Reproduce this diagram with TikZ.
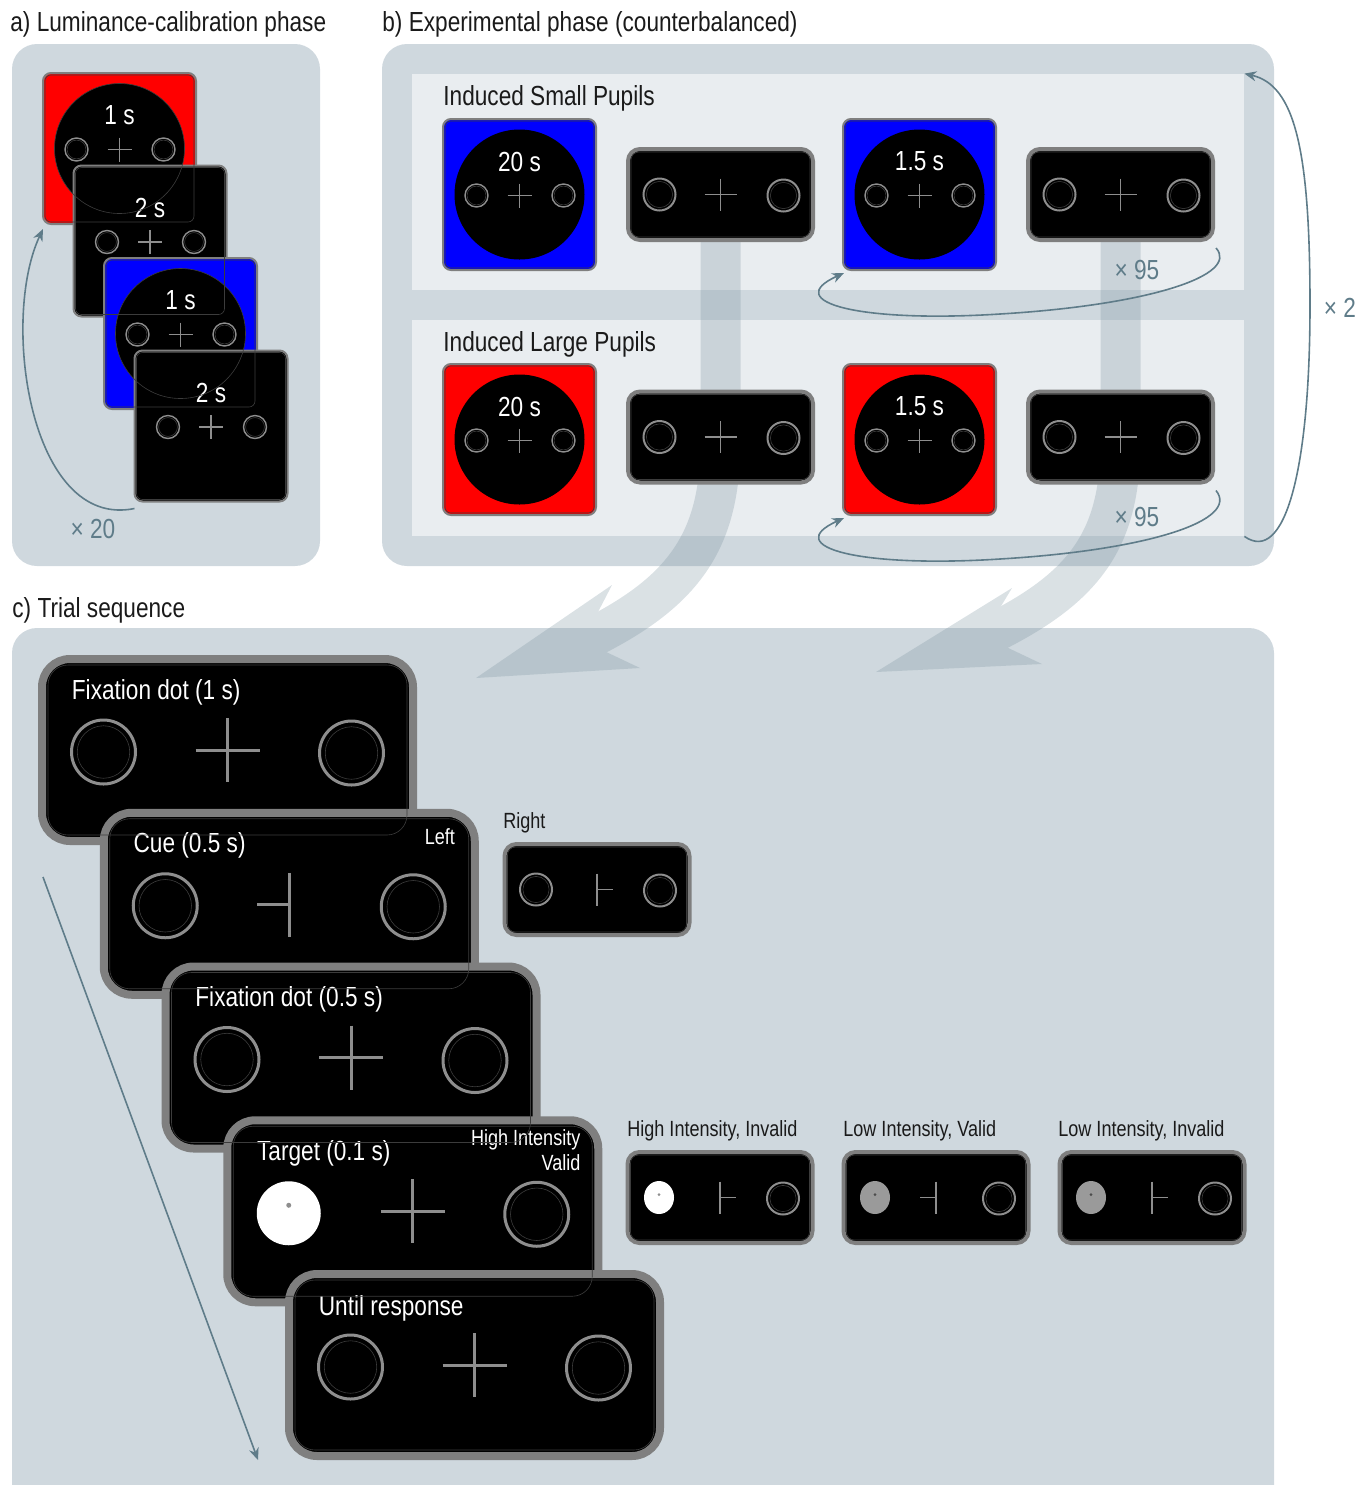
\documentclass[tikz,border=0pt]{standalone}
\usepackage{fontspec}
\setmainfont{Liberation Sans}[FakeStretch=0.82]
\usepackage{tikz}
\usetikzlibrary{arrows.meta,calc}
\definecolor{PanelGrey}{HTML}{CFD8DE}
\definecolor{BoxLight}{HTML}{E9EDF0}
\definecolor{ScreenEdge}{HTML}{7F7F7F}
\definecolor{StimGrey}{HTML}{8E8E8E}
\definecolor{GhostGrey}{HTML}{3C3C3C}
\definecolor{LoopSlate}{HTML}{5F7C89}
\definecolor{BandSlate}{HTML}{78909C}
\definecolor{StimBlue}{HTML}{0000FF}
\definecolor{StimRed}{HTML}{FF0000}
\definecolor{LowDisk}{HTML}{9A9A9A}
\definecolor{TitleInk}{HTML}{1A1A1A}

\newcommand{\titlesize}{\fontsize{13.8}{16}\selectfont}
\newcommand{\notesize}{\fontsize{11}{12.6}\selectfont}

% placeholder ring with a faint inner line: centre, radius, width
\newcommand{\stimring}[3]{%
  \draw[StimGrey,line width=#3] (#1) circle[radius=#2];
  \draw[ghostline] (#1) circle[radius=0.82*#2];}

% faint inner outline of a screen: node, inset, corner
\newcommand{\innerframe}[3]{%
  \draw[ghostline,rounded corners=#3] ($(#1.north west)+(#2,#2)$) rectangle ($(#1.south east)+(-#2,-#2)$);}

% square screen: time label above cross and rings
\newcommand{\squareface}[2]{%
  \begin{scope}[shift={(#1.center)}]
    \node[timelabel] (#1-t) at (0,-35) {#2};
    \stimring{-43,1}{11.5}{0.7pt}
    \stimring{44,1}{11.5}{0.7pt}
    \draw[stimline,line width=0.6pt] (-12,1) -- (12,1) (0,-11) -- (0,13);
  \end{scope}}
\newcommand{\colourface}[2]{%
  \fill[black] (#1.center) circle[radius=65];
  \squareface{#1}{#2}}

% small screen: two rings and a cross
\newcommand{\smallface}[1]{%
  \begin{scope}[shift={(#1.center)}]
    \stimring{-61,0}{16}{1pt}
    \stimring{63,1}{16}{1pt}
    \draw[stimline] (-16,0) -- (16,0) (0,-16) -- (0,16);
  \end{scope}}

% big screen rings
\newcommand{\bigrings}[1]{%
  \begin{scope}[shift={(#1.center)}]
    \stimring{-124,2}{32}{1.5pt}
    \stimring{124,3}{32}{1.5pt}
  \end{scope}}

\begin{document}
\begin{tikzpicture}[x=0.5pt,y=-0.5pt,>=Latex,
  panel/.style={fill=PanelGrey,rounded corners=12.5pt},
  lightbox/.style={fill=BoxLight,inner sep=0pt,minimum width=416pt,minimum height=108pt},
  colsq/.style={draw=ScreenEdge,line width=1pt,rounded corners=4pt,inner sep=0pt,minimum width=76.5pt,minimum height=75.5pt},
  smallscr/.style={draw=ScreenEdge,fill=black,line width=2pt,rounded corners=6pt,inner sep=0pt,minimum width=92.5pt,minimum height=45.5pt},
  bigscr/.style={draw=ScreenEdge,fill=black,line width=4pt,rounded corners=14pt,inner sep=0pt,minimum width=185.5pt,minimum height=91pt},
  stimline/.style={StimGrey,line width=0.75pt},
  bigline/.style={StimGrey,line width=1.5pt},
  ghostline/.style={GhostGrey,line width=0.3pt},
  heading/.style={text=TitleInk,font=\titlesize,inner sep=0pt,anchor=west,yshift=-1pt},
  note/.style={text=TitleInk,font=\notesize,inner sep=0pt,anchor=west,yshift=-1pt},
  timelabel/.style={text=white,font=\titlesize,inner sep=0pt,yshift=-1pt},
  screenlabel/.style={text=white,font=\titlesize,inner sep=0pt,anchor=west,yshift=-1pt},
  screennote/.style={text=white,font=\notesize,inner sep=0pt,anchor=east,align=right,yshift=-0.5pt},
  loopline/.style={draw=LoopSlate,line width=0.8pt,-{Stealth[length=6pt,width=5pt]}},
  looplabel/.style={text=LoopSlate,font=\titlesize,inner sep=0pt,yshift=-1pt}]
  \useasboundingbox (0,0) rectangle (1370,1485);

  % panels
  \fill[panel] (12,44) rectangle (320,566);
  \fill[panel] (382,44) rectangle (1274,566);
  \fill[panel] (12,628) rectangle (1274,1540);
  \node[lightbox] (boxsmall) at (828,182) {};
  \node[lightbox] (boxlarge) at (828,428) {};
  \node[heading] (titlea) at (10,22) {a) Luminance-calibration phase};
  \node[heading] (titleb) at (382,22) {b) Experimental phase (counterbalanced)};
  \node[heading] (titlec) at (12,608) {c) Trial sequence};
  \node[heading] (rowsmall) at (443,96) {Induced Small Pupils};
  \node[heading] (rowlarge) at (443,342) {Induced Large Pupils};

  % bands leading to the trial sequence
  \begin{scope}[transparency group,opacity=0.27]
    \draw[BandSlate,line width=20pt] (720.5,236) -- (720.5,440) .. controls (720.5,545) and (682,598) .. (565,650);
    \fill[BandSlate] (476,678) -- (612,585) -- (583,641) -- (640,668) -- cycle;
  \end{scope}
  \begin{scope}[transparency group,opacity=0.27]
    \draw[BandSlate,line width=20pt] (1120.5,236) -- (1120.5,440) .. controls (1120.5,545) and (1082,594) .. (965,646);
    \fill[BandSlate] (876,672) -- (1012,588) -- (983,636) -- (1042,664) -- cycle;
  \end{scope}

  % a) calibration
  \node[colsq,fill=StimRed] (a1) at (119.5,148.5) {};
  \colourface{a1}{1 s}
  \node[colsq,fill=black] (a2) at (150,241) {};
  \squareface{a2}{2 s}
  \node[colsq,fill=StimBlue] (a3) at (180.5,333.5) {};
  \colourface{a3}{1 s}
  \node[colsq,fill=black] (a4) at (211,426) {};
  \squareface{a4}{2 s}
  \draw[loopline] ($(a4.south west)+(1,6)$) .. controls (30,530) and (0,320) .. ($(a1.south west)+(1,4)$);
  \node[looplabel] (rep20) at (93,527) {× 20};

  % b) small pupils
  \node[colsq,fill=StimBlue] (s1) at (519.5,194.5) {};
  \colourface{s1}{20 s}
  \node[smallscr] (s2) at (720.5,194.5) {};
  \smallface{s2}
  \node[colsq,fill=StimBlue] (s3) at (919.5,194.5) {};
  \colourface{s3}{1.5 s}
  \node[smallscr] (s4) at (1120.5,194.5) {};
  \smallface{s4}
  \draw[loopline] ($(s4.south east)+(1,6)$) .. controls (1240,275) and (1150,305) .. (1000,314) .. controls (860,323) and (780,302) .. ($(s3.south west)+(2,2)$);
  \node[looplabel] (rep95a) at (1137,268) {× 95};

  % b) large pupils
  \node[colsq,fill=StimRed] (l1) at (519.5,439.5) {};
  \colourface{l1}{20 s}
  \node[smallscr] (l2) at (720.5,437) {};
  \smallface{l2}
  \node[colsq,fill=StimRed] (l3) at (919.5,439.5) {};
  \colourface{l3}{1.5 s}
  \node[smallscr] (l4) at (1120.5,437) {};
  \smallface{l4}
  \draw[loopline] ($(l4.south east)+(1,6)$) .. controls (1240,520) and (1150,550) .. (1000,559) .. controls (860,568) and (780,547) .. ($(l3.south west)+(2,2)$);
  \node[looplabel] (rep95b) at (1137,515) {× 95};

  \draw[loopline] (boxlarge.south east) .. controls (1285,565) and (1310,470) .. (1310,305) .. controls (1310,150) and (1295,85) .. (boxsmall.north east);
  \node[looplabel] (rep2) at (1340,306) {× 2};

  % c) trial sequence
  \coordinate (tstart) at (43,877);
  \coordinate (tend) at (258,1460);
  \draw[loopline] (tstart) -- (tend);

  \node[bigscr] (c1) at (227.5,750) {};
  \node[screenlabel] (c1-t) at ($(c1.center)+(-156,-60)$) {Fixation dot (1 s)};
  \bigrings{c1}
  \draw[bigline] ($(c1.center)+(-32,0)$) -- ($(c1.center)+(32,0)$) ($(c1.center)+(0,-32)$) -- ($(c1.center)+(0,32)$);

  \node[bigscr] (c2) at (289.25,903.75) {};
  \node[screenlabel] (c2-t) at ($(c2.center)+(-156,-60)$) {Cue (0.5 s)};
  \node[screennote] (c2-n) at ($(c2.center)+(166,-68)$) {Left};
  \bigrings{c2}
  \draw[bigline] ($(c2.center)+(-32,1)$) -- ($(c2.center)+(0,1)$) ($(c2.center)+(0,-31)$) -- ($(c2.center)+(0,33)$);

  \node[bigscr] (c3) at (351,1057.5) {};
  \node[screenlabel] (c3-t) at ($(c3.center)+(-156,-60)$) {Fixation dot (0.5 s)};
  \bigrings{c3}
  \draw[bigline] ($(c3.center)+(-32,0)$) -- ($(c3.center)+(32,0)$) ($(c3.center)+(0,-32)$) -- ($(c3.center)+(0,32)$);

  \node[bigscr] (c4) at (412.75,1211.25) {};
  \node[screenlabel] (c4-t) at ($(c4.center)+(-156,-60)$) {Target (0.1 s)};
  \node[screennote] (c4-n) at ($(c4.center)+(168,-62)$) {High Intensity\\Valid};
  \fill[white] ($(c4.center)+(-124,2)$) circle[radius=32];
  \fill[StimGrey] ($(c4.center)+(-124,-6)$) circle[radius=2.5];
  \stimring{$(c4.center)+(124,3)$}{32}{1.5pt}
  \draw[bigline] ($(c4.center)+(-32,0)$) -- ($(c4.center)+(32,0)$) ($(c4.center)+(0,-32)$) -- ($(c4.center)+(0,32)$);

  \node[bigscr] (c5) at (474.5,1365) {};
  \node[screenlabel] (c5-t) at ($(c5.center)+(-156,-59)$) {Until response};
  \bigrings{c5}
  \draw[bigline] ($(c5.center)+(-32,0)$) -- ($(c5.center)+(32,0)$) ($(c5.center)+(0,-32)$) -- ($(c5.center)+(0,32)$);

  % c) alternatives
  \node[smallscr] (cueright) at (597,889.5) {};
  \node[note] (cueright-t) at (503,821) {Right};
  \begin{scope}[shift={(cueright.center)}]
    \stimring{-61,0}{16}{1pt}
    \stimring{63,1}{16}{1pt}
    \draw[stimline] (0,-16) -- (0,16) (0,0) -- (16,0);
  \end{scope}

  \node[smallscr] (hiinv) at (720,1197.5) {};
  \node[note] (hiinv-t) at (627,1129) {High Intensity, Invalid};
  \begin{scope}[shift={(hiinv.center)}]
    \fill[white] (-61,0) ellipse[x radius=15,y radius=16.5];
    \fill[StimGrey] (-61,-3) circle[radius=1.5];
    \stimring{63,1}{16}{1pt}
    \draw[stimline] (0,-16) -- (0,16) (0,0) -- (16,0);
  \end{scope}

  \node[smallscr] (lowval) at (936,1197.5) {};
  \node[note] (lowval-t) at (843,1129) {Low Intensity, Valid};
  \begin{scope}[shift={(lowval.center)}]
    \fill[LowDisk] (-61,0) ellipse[x radius=15,y radius=16.5];
    \fill[black!70] (-61,-3) circle[radius=1.5];
    \stimring{63,1}{16}{1pt}
    \draw[stimline] (0,-16) -- (0,16) (-16,0) -- (0,0);
  \end{scope}

  \node[smallscr] (lowinv) at (1152,1197.5) {};
  \node[note] (lowinv-t) at (1058,1129) {Low Intensity, Invalid};
  \begin{scope}[shift={(lowinv.center)}]
    \fill[LowDisk] (-61,0) ellipse[x radius=15,y radius=16.5];
    \fill[black!70] (-61,-3) circle[radius=1.5];
    \stimring{63,1}{16}{1pt}
    \draw[stimline] (0,-16) -- (0,16) (0,0) -- (16,0);
  \end{scope}

  % faint outlines showing through
  \draw[ghostline] (a1.center) circle[radius=65];
  \draw[ghostline] (a3.center) circle[radius=65];
  \foreach \sq in {a1,a2,a3,a4,s1,s3,l1,l3}{\innerframe{\sq}{3}{3pt}}
  \foreach \sc in {s2,s4,l2,l4,cueright,hiinv,lowval,lowinv}{\innerframe{\sc}{5}{4pt}}
  \foreach \bc in {c1,c2,c3,c4,c5}{\innerframe{\bc}{10}{10pt}}
\end{tikzpicture}
\end{document}
